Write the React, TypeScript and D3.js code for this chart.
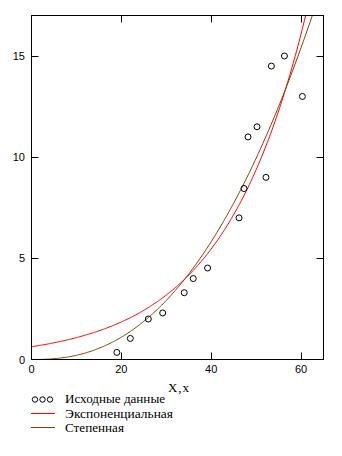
import React from "react";
import * as d3 from "d3";

// Source data points (X, Y)
const dataX = [19, 22, 26, 29.2, 34, 36, 39.2, 46.2, 47.3, 48.2, 50.2, 52.2, 53.4, 56.3, 60.3];
const dataY = [0.35, 1.04, 2.0, 2.3, 3.3, 4.0, 4.52, 7.0, 8.45, 11.0, 11.5, 9.0, 14.5, 15.0, 13.0];

// Fitted models: exponential y = a*exp(b*x), power y = c*x^d
const expParams = [0.63, 0.054];
const powParams = [0.000832, 2.4];

const xTicks = [0, 20, 40, 60];
const yTicks = [0, 5, 10, 15];

const legendLabels = ["Исходные данные", "Экспоненциальная", "Степенная"];
const legendWidths = [100, 108, 59];
const axisLabel = "X,x";

const W = 342;
const H = 456;
const L = 31.5, R = 323.5, T = 15.5, B = 359.5;

export default function App() {
  const x = d3.scaleLinear().domain([0, 65]).range([L, R]);
  const y = d3.scaleLinear().domain([0, 17]).range([B, T]);

  const xs = d3.range(0, 65.001, 0.25);
  const expLine = d3
    .line<number>()
    .x((d) => x(d))
    .y((d) => y(expParams[0] * Math.exp(expParams[1] * d)));
  const powLine = d3
    .line<number>()
    .x((d) => x(d))
    .y((d) => y(powParams[0] * Math.pow(d, powParams[1])));

  const tickLen = 7;
  const sans = "'Liberation Sans', Arial, sans-serif";
  const serif = "'Liberation Serif', 'Times New Roman', serif";

  return (
    <svg
      width={W}
      height={H}
      style={{ position: "absolute", left: 0, top: 0, background: "#fff" }}
    >
      <defs>
        <clipPath id="plot">
          <rect x={L} y={T} width={R - L} height={B - T} />
        </clipPath>
      </defs>
      <g clipPath="url(#plot)" fill="none" strokeWidth={1}>
        <path d={expLine(xs) || ""} stroke="#ff0000" />
        <path d={powLine(xs) || ""} stroke="#804000" />
        {dataX.map((d, i) => (
          <circle key={i} cx={x(d)} cy={y(dataY[i])} r={3} stroke="#000" />
        ))}
      </g>
      <rect x={L} y={T} width={R - L} height={B - T} fill="none" stroke="#000" />
      {xTicks.filter((t) => t > 0).map((t) => (
        <g key={"x" + t} stroke="#000">
          <line x1={Math.round(x(t)) + 0.5} x2={Math.round(x(t)) + 0.5} y1={B} y2={B - tickLen} />
          <line x1={Math.round(x(t)) + 0.5} x2={Math.round(x(t)) + 0.5} y1={T} y2={T + tickLen} />
        </g>
      ))}
      {yTicks.filter((t) => t > 0).map((t) => (
        <g key={"y" + t} stroke="#000">
          <line y1={Math.round(y(t)) + 0.5} y2={Math.round(y(t)) + 0.5} x1={L} x2={L + tickLen} />
          <line y1={Math.round(y(t)) + 0.5} y2={Math.round(y(t)) + 0.5} x1={R} x2={R - tickLen} />
        </g>
      ))}
      {xTicks.map((t) => (
        <text key={"xl" + t} x={x(t)} y={373} textAnchor="middle" fontFamily={sans} fontSize={11} fill="#000">
          {t}
        </text>
      ))}
      {yTicks.map((t) => (
        <text key={"yl" + t} x={25} y={y(t) + 4} textAnchor="end" fontFamily={sans} fontSize={11} fill="#000">
          {t}
        </text>
      ))}
      <text x={168} y={392} fontFamily={serif} fontSize={13} fill="#000" textLength={21} lengthAdjust="spacing">
        {axisLabel}
      </text>
      {[35, 42.5, 50].map((cx) => (
        <circle key={cx} cx={cx} cy={399.5} r={2.7} fill="none" stroke="#000" />
      ))}
      <line x1={31} x2={55} y1={413.5} y2={413.5} stroke="#ff0000" />
      <line x1={31} x2={55} y1={427.5} y2={427.5} stroke="#804000" />
      {legendLabels.map((s, i) => (
        <text
          key={s}
          x={65}
          y={403 + i * 14.5}
          fontFamily={serif}
          fontSize={13}
          fill="#000"
          textLength={legendWidths[i]}
          lengthAdjust="spacingAndGlyphs"
        >
          {s}
        </text>
      ))}
    </svg>
  );
}
